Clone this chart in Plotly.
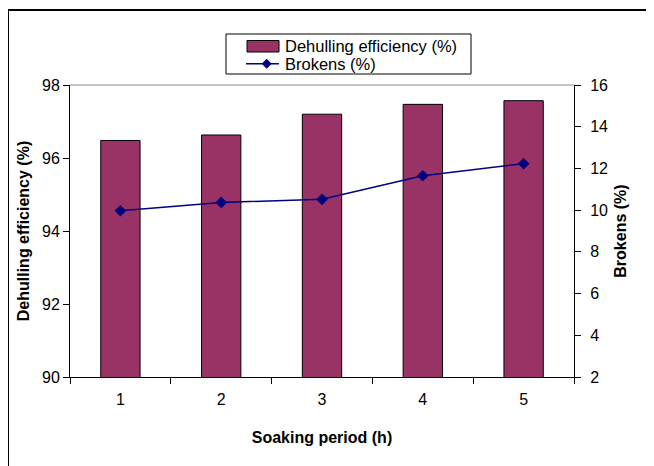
import plotly.graph_objects as go

categories = ["1", "2", "3", "4", "5"]
dehulling = [96.48, 96.63, 97.20, 97.47, 97.57]
brokens = [9.97, 10.37, 10.52, 11.65, 12.23]
left_ticks = [90, 92, 94, 96, 98]
right_ticks = [2, 4, 6, 8, 10, 12, 14, 16]
legend_labels = ["Dehulling efficiency (%)", "Brokens (%)"]

BAR_COLOR = "#993366"
LINE_COLOR = "#000080"

# plot area in pixels (as rendered): x 70-574, y 85-377
PX0, PX1, PY0, PY1 = 70, 574, 85, 377
def px(x):
    return (x - PX0) / (PX1 - PX0)
def py(y):
    return (PY1 - y) / (PY1 - PY0)

fig = go.Figure()
fig.add_trace(go.Bar(
    x=categories, y=dehulling, name=legend_labels[0],
    marker=dict(color=BAR_COLOR, line=dict(color="black", width=1)),
    width=0.39, yaxis="y",
))
fig.add_trace(go.Scatter(
    x=categories, y=brokens, name=legend_labels[1], mode="lines+markers",
    line=dict(color=LINE_COLOR, width=1.5),
    marker=dict(symbol="diamond", size=9, color=LINE_COLOR),
    yaxis="y2",
))

font = dict(family="Arial, Liberation Sans, sans-serif", size=16, color="black")

# manual legend
dx, dy = 266.7, 63.7
shapes = [
    dict(type="line", xref="paper", yref="paper", x0=0, x1=1, y0=1, y1=1,
         line=dict(color="#888888", width=1)),
    dict(type="rect", xref="paper", yref="paper", x0=px(8), x1=1.4, y0=-0.45, y1=py(10),
         line=dict(color="black", width=2), layer="below"),
    dict(type="rect", xref="paper", yref="paper", x0=px(226), x1=px(471), y0=py(74), y1=py(34),
         line=dict(color="black", width=1), fillcolor="white"),
    dict(type="rect", xref="paper", yref="paper", x0=px(247), x1=px(279), y0=py(52), y1=py(40.5),
         line=dict(color="black", width=1), fillcolor=BAR_COLOR),
    dict(type="line", xref="paper", yref="paper", x0=px(246), x1=px(279), y0=py(dy), y1=py(dy),
         line=dict(color=LINE_COLOR, width=1.5)),
    dict(type="path", xref="paper", yref="paper",
         path=(f"M {px(dx)},{py(dy-5)} L {px(dx+5)},{py(dy)} L {px(dx)},{py(dy+5)} "
               f"L {px(dx-5)},{py(dy)} Z"),
         line=dict(color=LINE_COLOR, width=0), fillcolor=LINE_COLOR),
]
annotations = [
    dict(xref="paper", yref="paper", x=px(283), y=py(46), text=legend_labels[0],
         showarrow=False, xanchor="left", yanchor="middle", font=dict(size=16.5)),
    dict(xref="paper", yref="paper", x=px(283), y=py(64), text=legend_labels[1],
         showarrow=False, xanchor="left", yanchor="middle", font=dict(size=16.5)),
]

fig.update_layout(
    width=654, height=466,
    margin=dict(l=62, r=88, t=77, b=97),
    paper_bgcolor="white", plot_bgcolor="white",
    font=font,
    showlegend=False,
    xaxis=dict(
        type="category", tickson="boundaries", ticks="outside", ticklen=6,
        showline=True, linecolor="black", linewidth=1, tickcolor="black",
        showgrid=False, range=[-0.5, 4.5], ticklabelstandoff=8,
        title=dict(text="<b>Soaking period (h)</b>", standoff=24, font=dict(size=16)),
    ),
    yaxis=dict(
        range=[90, 98], tickvals=left_ticks, ticks="outside", ticklen=6,
        showline=True, linecolor="black", linewidth=1, tickcolor="black",
        showgrid=False, zeroline=False,
        title=dict(text="<b>Dehulling efficiency (%)</b>", standoff=8, font=dict(size=16)),
    ),
    yaxis2=dict(
        range=[2, 16], tickvals=right_ticks, ticks="outside", ticklen=6,
        overlaying="y", side="right", ticklabelstandoff=6,
        showline=True, linecolor="black", linewidth=1, tickcolor="black",
        showgrid=False, zeroline=False,
        title=dict(text="<b>Brokens (%)</b>", standoff=7, font=dict(size=16)),
    ),
    shapes=shapes,
    annotations=annotations,
)

fig.write_html("out.html")
